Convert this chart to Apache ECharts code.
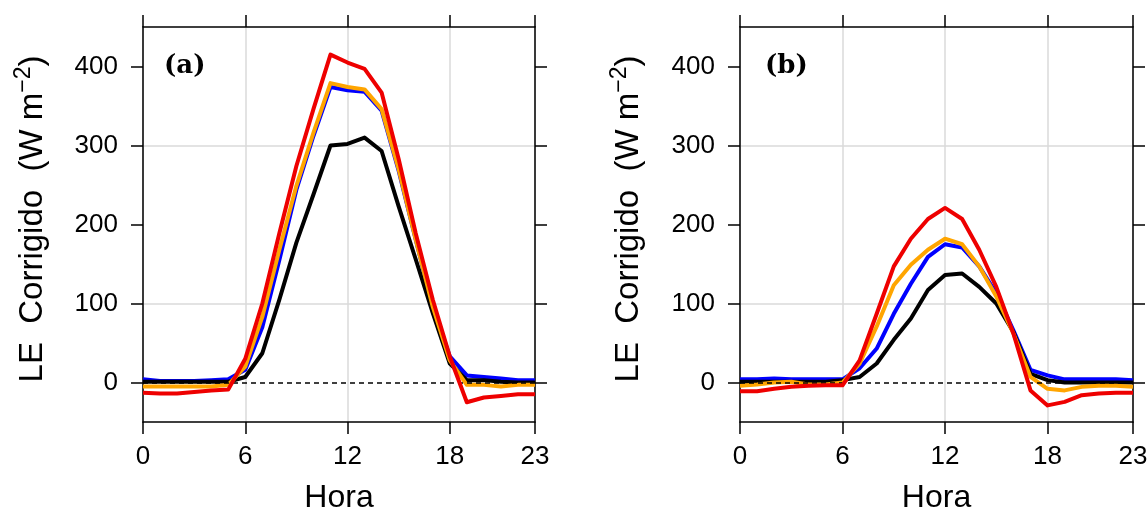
<!DOCTYPE html>
<html>
<head>
<meta charset="utf-8">
<script src="https://cdn.jsdelivr.net/npm/echarts@6/dist/echarts.min.js"></script>
<style>html,body{margin:0;padding:0;background:#fff}#c{width:1148px;height:512px}</style>
</head>
<body>
<div id="c"></div>
<script>
const hours = [0,1,2,3,4,5,6,7,8,9,10,11,12,13,14,15,16,17,18,19,20,21,22,23];
const xTicks = [0,6,12,18,23];
const yTicks = [0,100,200,300,400];
const panelLabels = ['(a)', '(b)'];
const xName = 'Hora';

// Panel (a)
const aBlack  = [1,1,1,1,1,1,7,37,105,177,238,300,302,310,293,223,156,88,24,3,3,1,0,0];
const aBlue   = [4,2,2,2,3,4,16,70,155,244,312,374,370,368,344,268,181,96,33,9,7,5,3,3];
const aOrange = [-5,-5,-5,-5,-5,-3,20,83,168,249,316,379,374,371,346,270,181,96,28,-3,-3,-5,-3,-3];
const aRed    = [-13,-14,-14,-12,-10,-9,30,100,189,274,346,415,405,397,367,283,189,105,33,-25,-19,-17,-15,-15];

// Panel (b)
const bBlack  = [1,1,1,1,1,1,3,7,24,54,81,117,136,138,121,100,64,11,3,0,0,0,0,0];
const bBlue   = [4,4,5,4,4,4,4,18,43,87,125,159,175,171,147,113,66,16,9,4,4,4,4,3];
const bOrange = [-4,-2.5,0,1,-2.5,-2.5,0,24,71,123,149,168,182,175,147,109,62,7,-8,-10,-5.5,-4,-4,-5.5];
const bRed    = [-11,-11,-8,-5.5,-4,-3.5,-3.5,28,87,147,182,207,221,207,168,121,62,-10,-29,-24.5,-16,-14,-13,-13];

const FONT = 'Liberation Sans, Arial, sans-serif';
const pair = arr => hours.map((h, i) => [h, arr[i]]);

function axesFor(g) {
  const line = {show: true, onZero: false, lineStyle: {color: '#000', width: 1.5}};
  const tick = {show: true, length: 12, lineStyle: {color: '#000', width: 1.5}};
  return {
    x: [
      {gridIndex: g, type: 'value', min: 0, max: 23, interval: 6, position: 'bottom',
       axisLine: line, axisTick: Object.assign({customValues: xTicks}, tick),
       axisLabel: {customValues: xTicks, fontSize: 26, color: '#000', margin: 22, fontFamily: FONT},
       splitLine: {show: true, lineStyle: {color: '#dadada', width: 1.5}},
       name: xName, nameLocation: 'middle', nameGap: 60,
       nameTextStyle: {fontSize: 32, color: '#000', fontFamily: FONT}},
      {gridIndex: g, type: 'value', min: 0, max: 23, interval: 6, position: 'top',
       axisLine: line, axisTick: Object.assign({customValues: xTicks}, tick),
       axisLabel: {show: false}, splitLine: {show: false}}
    ],
    y: [
      {gridIndex: g, type: 'value', min: -50, max: 450, interval: 50, position: 'left',
       axisLine: line, axisTick: Object.assign({customValues: yTicks}, tick),
       axisLabel: {customValues: yTicks, fontSize: 26, color: '#000', margin: 25, fontFamily: FONT},
       splitLine: {show: true, lineStyle: {color: ['rgba(0,0,0,0)', '#dadada'], width: 1.5}}},
      {gridIndex: g, type: 'value', min: -50, max: 450, interval: 50, position: 'right',
       axisLine: line, axisTick: Object.assign({customValues: yTicks}, tick),
       axisLabel: {show: false}, splitLine: {show: false}}
    ]
  };
}

const A = axesFor(0), B = axesFor(1);

function ser(g, data, color, w, z, extra) {
  return Object.assign({
    type: 'line', xAxisIndex: g * 2, yAxisIndex: g * 2, data: pair(data),
    showSymbol: false, symbol: 'none', silent: true, animation: false, z: z,
    lineStyle: {color: color, width: w, join: 'round'}
  }, extra || {});
}

function zeroLine() {
  return {markLine: {silent: true, symbol: 'none', label: {show: false}, animation: false,
    lineStyle: {color: '#000', type: [5, 4], width: 1.5},
    data: [{yAxis: 0}]}};
}

function yTitle(x) {
  return {
    type: 'text', x: x, y: 219, rotation: Math.PI / 2, z: 10,
    style: {
      text: '{m|LE  Corrigido  (W m}{s|−2}{m|)}',
      align: 'center', verticalAlign: 'middle',
      rich: {
        m: {fontSize: 33, fontFamily: FONT, fill: '#000', lineHeight: 42},
        s: {fontSize: 23, fontFamily: FONT, fill: '#000', verticalAlign: 'top', lineHeight: 42, padding: [0, 0, 12, 0]}
      }
    }
  };
}

function panelLabel(x, t) {
  return {type: 'text', x: x, y: 66, z: 10,
    style: {text: t, fontSize: 26, fontWeight: 'bold', fontFamily: 'DejaVu Serif, Liberation Serif, serif',
      fill: '#000', align: 'left', verticalAlign: 'middle'}};
}

const option = {
  animation: false,
  backgroundColor: '#fff',
  grid: [
    {left: 143, top: 27, width: 392, height: 395, containLabel: false, outerBoundsMode: 'none'},
    {left: 740, top: 27, width: 393, height: 395, containLabel: false, outerBoundsMode: 'none'}
  ],
  xAxis: A.x.concat(B.x.map(a => Object.assign({}, a, {gridIndex: 1}))),
  yAxis: A.y.concat(B.y.map(a => Object.assign({}, a, {gridIndex: 1}))),
  series: [
    ser(0, aBlue, '#0000ff', 4, 2, zeroLine()),
    ser(0, aBlack, '#000000', 4, 3),
    ser(0, aOrange, '#ffa500', 4, 4),
    ser(0, aRed, '#ee0000', 4, 5),
    ser(1, bBlue, '#0000ff', 4, 2, zeroLine()),
    ser(1, bBlack, '#000000', 4, 3),
    ser(1, bOrange, '#ffa500', 4, 4),
    ser(1, bRed, '#ee0000', 4, 5)
  ],
  graphic: [yTitle(33), yTitle(629), panelLabel(164, panelLabels[0]), panelLabel(765, panelLabels[1])]
};

const chart = echarts.init(document.getElementById('c'), null, {renderer: 'canvas'});
chart.setOption(option);
</script>
</body>
</html>
